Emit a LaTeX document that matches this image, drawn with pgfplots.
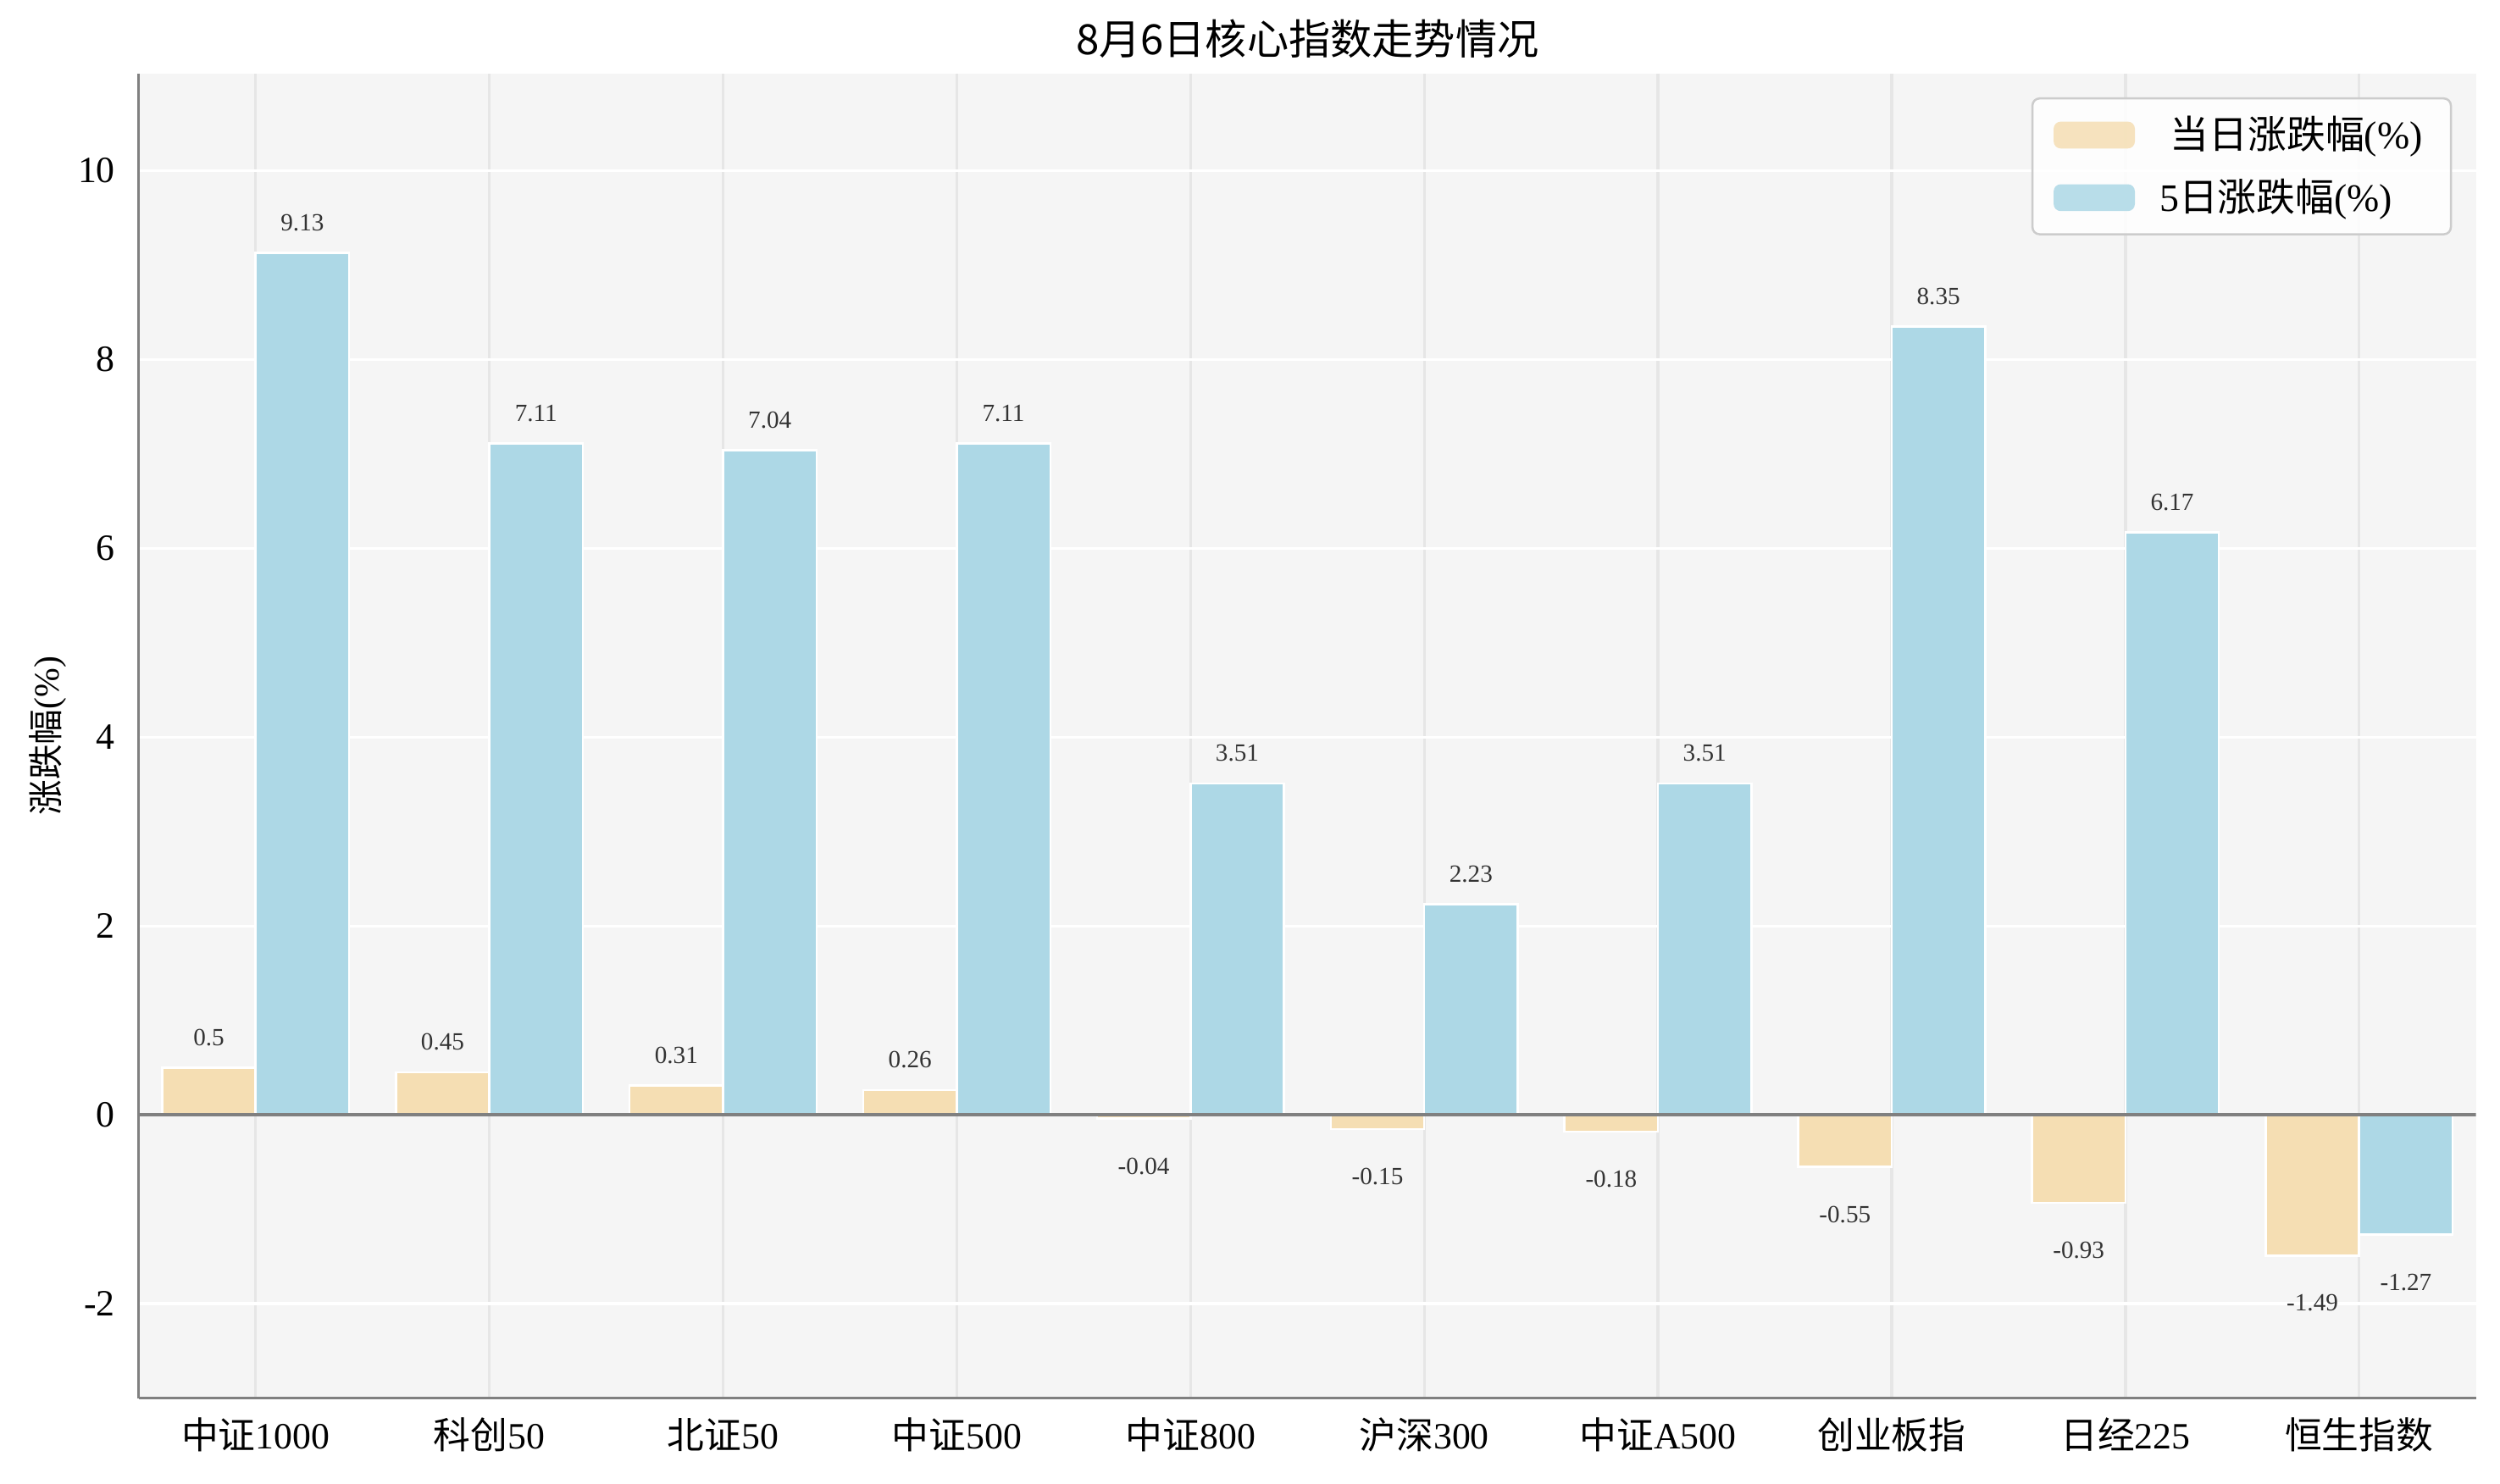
\documentclass[border=0pt]{standalone}
\usepackage{fontspec}
\setmainfont{Liberation Serif}
\newfontfamily\cjk{Noto Sans CJK SC}
\usepackage{pgfplots}
\pgfplotsset{compat=1.18}
\definecolor{wheat}{HTML}{F5DEB3}
\definecolor{lblue}{HTML}{ADD8E6}
\definecolor{bg}{HTML}{F5F5F5}
\definecolor{vgrid}{HTML}{E6E6E6}
\definecolor{spine}{HTML}{808080}
\definecolor{lab}{HTML}{333333}
\begin{document}
\begin{tikzpicture}
\path[use as bounding box] (-39.3pt,-24.1pt) rectangle (668.7pt,396pt);
\begin{axis}[
  at={(0,0)}, anchor=south west,
  scale only axis, width=661.9pt, height=375.2pt,
  xmin=-0.5, xmax=9.5, ymin=-3, ymax=11.03,
  ybar, bar width=0.4,
  axis background/.style={fill=bg},
  axis x line*=bottom, axis y line*=left,
  axis line style={spine, line width=0.8pt},
  major tick length=0pt,
  xtick={0,...,9},
  xticklabels={{\cjk 中证}1000,{\cjk 科创}50,{\cjk 北证}50,{\cjk 中证}500,{\cjk 中证}800,{\cjk 沪深}300,{\cjk 中证}A500,{\cjk 创业板指},{\cjk 日经}225,{\cjk 恒生指数}},
  ytick={-2,0,2,4,6,8,10},
  yticklabels={-2,0,2,4,6,8,10},
  tick label style={font=\fontsize{10.5}{12}\selectfont, text=black},
  xticklabel style={anchor=center, inner sep=0pt, yshift=-10.4pt},
  yticklabel style={anchor=east, inner sep=0pt, xshift=-6.5pt},
  xmajorgrids, ymajorgrids,
  x grid style={vgrid, line width=0.8pt},
  y grid style={white, line width=0.8pt},
  title={{\cjk 8月6日核心指数走势情况}},
  title style={at={(axis description cs:0.5,1)}, anchor=center, yshift=3.8pt, font=\fontsize{11.8}{14}\selectfont},
  ylabel={{\cjk 涨跌幅}(\%)},
  every axis y label/.style={at={(axis description cs:0,0.5)}, xshift=-25.8pt, rotate=90, anchor=center, font=\fontsize{10}{12}\selectfont},
  visualization depends on={rawy \as \ry},
  nodes near coords={\pgfplotspointmeta},
  point meta=explicit symbolic,
  every node near coord/.append style={anchor=center, inner sep=0pt, font=\fontsize{7}{8}\selectfont, text=lab, yshift={ifthenelse(\ry<0,-13.5,8.6)}},
  legend style={at={(0.9897,0.9819)}, anchor=north east, draw=black!20, fill=white, fill opacity=0.85, text opacity=1, rounded corners=2pt, line width=0.6pt, font=\fontsize{11}{13}\selectfont, inner xsep=6pt, inner ysep=3pt, row sep=3pt, legend cell align=left},
  legend image code/.code={\fill[#1,draw=none] (0pt,-3.8pt) rectangle (23pt,3.8pt);},
]
\addplot[fill=wheat, draw=white, line width=0.6pt, bar shift=-0.2] coordinates {
  (0,0.5) [0.5] (1,0.45) [0.45] (2,0.31) [0.31] (3,0.26) [0.26] (4,-0.04) [-0.04]
  (5,-0.15) [-0.15] (6,-0.18) [-0.18] (7,-0.55) [-0.55] (8,-0.93) [-0.93] (9,-1.49) [-1.49]};
\addplot[fill=lblue, draw=white, line width=0.6pt, bar shift=0.2] coordinates {
  (0,9.13) [9.13] (1,7.11) [7.11] (2,7.04) [7.04] (3,7.11) [7.11] (4,3.51) [3.51]
  (5,2.23) [2.23] (6,3.51) [3.51] (7,8.35) [8.35] (8,6.17) [6.17] (9,-1.27) [-1.27]};
\legend{{\hspace*{8pt}\cjk 当日涨跌幅}(\%),{\hspace*{5pt}5\cjk 日涨跌幅}(\%)}
\draw[spine, line width=0.8pt] (axis cs:-0.5,0) -- (axis cs:9.5,0);
\end{axis}
\end{tikzpicture}
\end{document}
